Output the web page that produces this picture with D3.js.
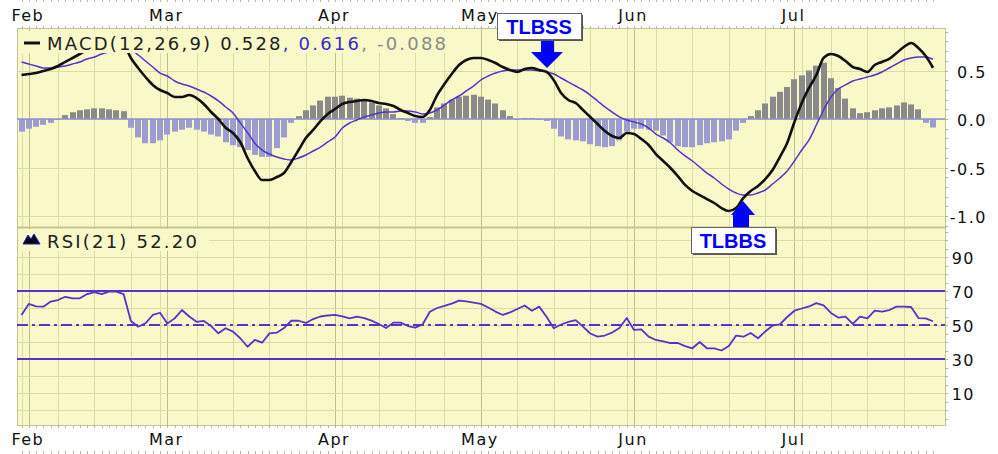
<!DOCTYPE html>
<meta charset="utf-8">
<style>
  body { margin: 0; background: #fff; }
  svg { display: block; }
  .lbl { font-family: "DejaVu Sans", Verdana, sans-serif; font-size: 16px; fill: #111; letter-spacing: 1.5px; }
  .leg { font-family: "DejaVu Sans", Verdana, sans-serif; font-size: 18px; letter-spacing: 2.2px; }
  .tag { font-family: "Liberation Sans", Arial, sans-serif; font-size: 20px; font-weight: bold; fill: #0000ff; }
</style>
<div id="chart"></div>
<script src="https://d3js.org/d3.v7.min.js"></script>
<script>

// trading days (2011, Jan 31 .. Jul 29), market holidays removed
var holidays = ["2011-02-21", "2011-04-22", "2011-05-30", "2011-07-04"];

var macd = [
  0.454, 0.464, 0.474, 0.495, 0.515, 0.546, 0.588, 0.629, 0.670, 0.711,
  0.742, 0.773, 0.794, 0.804, 0.773, 0.629, 0.526, 0.433, 0.351, 0.299,
  0.268, 0.227, 0.227, 0.247, 0.216, 0.155, 0.072, 0.000, -0.090, -0.144,
  -0.237, -0.402, -0.536, -0.629, -0.629, -0.598, -0.557, -0.443, -0.320, -0.196,
  -0.113, -0.021, 0.052, 0.103, 0.155, 0.175, 0.186, 0.196, 0.186, 0.165,
  0.155, 0.134, 0.093, 0.062, 0.031, 0.021, 0.093, 0.247, 0.361, 0.464,
  0.557, 0.608, 0.629, 0.629, 0.608, 0.577, 0.536, 0.505, 0.485, 0.515,
  0.526, 0.505, 0.485, 0.400, 0.268, 0.196, 0.165, 0.093, 0.021, -0.052,
  -0.124, -0.175, -0.196, -0.144, -0.155, -0.206, -0.268, -0.361, -0.433, -0.505,
  -0.588, -0.680, -0.742, -0.784, -0.825, -0.866, -0.918, -0.948, -0.918, -0.814,
  -0.742, -0.691, -0.619, -0.526, -0.392, -0.247, -0.031, 0.165, 0.320, 0.454,
  0.629, 0.670, 0.649, 0.598, 0.536, 0.515, 0.485, 0.557, 0.588, 0.619,
  0.680, 0.742, 0.784, 0.732, 0.649, 0.528
];

var signal = [
  0.588, 0.567, 0.546, 0.526, 0.526, 0.536, 0.546, 0.567, 0.588, 0.619,
  0.639, 0.670, 0.691, 0.711, 0.722, 0.711, 0.660, 0.598, 0.536, 0.474,
  0.443, 0.392, 0.361, 0.340, 0.309, 0.278, 0.237, 0.186, 0.124, 0.062,
  -0.040, -0.140, -0.250, -0.320, -0.361, -0.392, -0.412, -0.423, -0.402, -0.371,
  -0.330, -0.289, -0.237, -0.186, -0.093, -0.041, -0.010, 0.021, 0.041, 0.062,
  0.072, 0.072, 0.082, 0.082, 0.072, 0.052, 0.062, 0.093, 0.144, 0.196,
  0.237, 0.289, 0.340, 0.402, 0.443, 0.474, 0.495, 0.505, 0.505, 0.505,
  0.505, 0.495, 0.485, 0.464, 0.423, 0.381, 0.340, 0.299, 0.247, 0.186,
  0.124, 0.072, 0.021, -0.010, -0.031, -0.052, -0.093, -0.155, -0.196, -0.247,
  -0.320, -0.381, -0.433, -0.495, -0.557, -0.608, -0.670, -0.722, -0.763, -0.784,
  -0.784, -0.763, -0.732, -0.670, -0.608, -0.536, -0.433, -0.320, -0.216, -0.062,
  0.093, 0.227, 0.309, 0.351, 0.392, 0.412, 0.433, 0.454, 0.485, 0.526,
  0.567, 0.608, 0.629, 0.639, 0.639, 0.616
];

var hist = [
  -0.13, -0.10, -0.08, -0.06, -0.04, -0.01, 0.04, 0.07, 0.09, 0.10,
  0.11, 0.11, 0.10, 0.09, 0.08, -0.09, -0.19, -0.25, -0.25, -0.22,
  -0.16, -0.13, -0.11, -0.09, -0.11, -0.13, -0.16, -0.18, -0.24, -0.27,
  -0.29, -0.32, -0.37, -0.39, -0.39, -0.30, -0.19, -0.04, 0.03, 0.09,
  0.14, 0.19, 0.23, 0.23, 0.24, 0.22, 0.21, 0.20, 0.17, 0.14,
  0.11, 0.05, 0.01, -0.02, -0.04, -0.04, 0.02, 0.12, 0.16, 0.20,
  0.23, 0.24, 0.25, 0.23, 0.20, 0.16, 0.09, 0.03, -0.01, 0.01,
  0.01, -0.01, -0.02, -0.10, -0.18, -0.21, -0.22, -0.23, -0.26, -0.28,
  -0.29, -0.28, -0.22, -0.13, -0.10, -0.10, -0.11, -0.12, -0.17, -0.24,
  -0.28, -0.29, -0.29, -0.27, -0.25, -0.24, -0.23, -0.21, -0.12, -0.04,
  0.03, 0.09, 0.16, 0.23, 0.28, 0.33, 0.41, 0.45, 0.50, 0.55,
  0.58, 0.42, 0.32, 0.21, 0.11, 0.06, 0.07, 0.09, 0.11, 0.12,
  0.14, 0.17, 0.15, 0.10, -0.04, -0.088
];

var rsi = [
  55.9, 62.4, 60.9, 60.8, 63.8, 64.7, 66.6, 65.7, 65.7, 68.2,
  69.4, 68.2, 69.6, 69.6, 68.2, 52.4, 49.0, 51.0, 55.9, 57.2,
  50.9, 53.9, 58.8, 55.0, 51.9, 52.4, 49.4, 45.1, 48.1, 46.1,
  42.2, 37.2, 41.2, 39.6, 45.1, 45.5, 48.2, 52.5, 52.5, 51.2,
  53.5, 55.0, 55.6, 55.9, 55.1, 53.9, 54.9, 54.1, 52.6, 50.6,
  48.2, 51.4, 51.4, 49.4, 48.5, 50.3, 57.8, 60.0, 61.2, 62.6,
  64.3, 63.9, 63.2, 62.4, 60.3, 57.9, 55.9, 57.4, 59.4, 61.5,
  58.4, 60.8, 54.9, 48.1, 50.3, 51.8, 52.9, 49.0, 45.0, 43.2,
  43.8, 45.6, 48.2, 54.1, 47.1, 47.4, 43.2, 41.2, 40.3, 39.4,
  39.4, 37.6, 36.3, 40.0, 36.3, 36.2, 35.0, 37.6, 43.8, 43.1,
  45.3, 42.2, 46.2, 49.7, 50.4, 54.7, 58.4, 59.7, 60.9, 62.9,
  61.5, 57.1, 54.4, 54.9, 50.6, 54.9, 53.9, 58.4, 57.9, 58.8,
  60.8, 60.8, 60.6, 54.1, 53.9, 52.2
];

var macdTicks = [0.5, 0.0, -0.5, -1.0];
var rsiTicks = [90, 70, 50, 30, 10];
var rsiLevels = [70, 50, 30];
var signals = [
  {label: "TLBSS", day: 72, dir: "down"},
  {label: "TLBBS", day: 99, dir: "up"}
];

var fmt = d3.timeFormat("%Y-%m-%d");
var days = d3.timeDays(new Date(2011, 0, 31), new Date(2011, 6, 30)).filter(function(d) {
  return d.getDay() > 0 && d.getDay() < 6 && holidays.indexOf(fmt(d)) < 0;
});

var monthStarts = [], weekStarts = [0];
days.forEach(function(d, i) {
  if (i > 0 && d.getMonth() != days[i - 1].getMonth()) monthStarts.push(i);
  if (i > 0 && (d - days[i - 1]) > 86400000 * 1.5 && d.getDay() <= days[i - 1].getDay()) weekStarts.push(i);
});

var W = 998, H = 454;
var L = 17, R = 945, T = 28, M = 227, B = 425;
var bg = "#f8f8c8", grid = "#dadca6", gridMonth = "#bcc088", purple = "#5533cc";

var svg = d3.select("#chart").append("svg")
    .attr("width", W)
    .attr("height", H);

var x = d3.scaleLinear().domain([0, days.length - 1]).range([21.5, 933]);
var yM = d3.scaleLinear().domain([-1, 0.5]).range([216, 70.5]);
var yR = d3.scaleLinear().domain([10, 90]).range([393, 257]);

var defs = svg.append("defs");
defs.append("clipPath").attr("id", "clipM").append("rect")
    .attr("x", L).attr("y", T).attr("width", R - L).attr("height", M - T);
defs.append("clipPath").attr("id", "clipR").append("rect")
    .attr("x", L).attr("y", M).attr("width", R - L).attr("height", B - M);

// background
svg.append("rect").attr("x", L).attr("y", T).attr("width", R - L).attr("height", B - T).attr("fill", bg);

// vertical grid
svg.append("g").selectAll("line")
  .data(weekStarts.filter(function(i) { return monthStarts.indexOf(i) < 0; }))
  .enter().append("line")
    .attr("x1", function(i) { return Math.round(x(i)) + 0.5; })
    .attr("x2", function(i) { return Math.round(x(i)) + 0.5; })
    .attr("y1", T).attr("y2", B)
    .attr("stroke", grid);
svg.append("g").selectAll("line")
  .data(monthStarts)
  .enter().append("line")
    .attr("x1", function(i) { return Math.round(x(i)) + 0.5; })
    .attr("x2", function(i) { return Math.round(x(i)) + 0.5; })
    .attr("y1", T).attr("y2", B)
    .attr("stroke", gridMonth);

// horizontal grid
svg.append("g").selectAll("line")
  .data(macdTicks)
  .enter().append("line")
    .attr("x1", L).attr("x2", R)
    .attr("y1", function(d) { return Math.round(yM(d)) + 0.5; })
    .attr("y2", function(d) { return Math.round(yM(d)) + 0.5; })
    .attr("stroke", grid);
svg.append("g").selectAll("line")
  .data(d3.range(0, 101, 10))
  .enter().append("line")
    .attr("x1", L).attr("x2", R)
    .attr("y1", function(d) { return Math.round(yR(d)) + 0.5; })
    .attr("y2", function(d) { return Math.round(yR(d)) + 0.5; })
    .attr("stroke", grid);

// borders
svg.append("rect").attr("x", L + 0.5).attr("y", T + 0.5).attr("width", R - L).attr("height", B - T)
    .attr("fill", "none").attr("stroke", "#c4c494");
svg.append("line").attr("x1", L).attr("x2", R).attr("y1", M + 0.5).attr("y2", M + 0.5)
    .attr("stroke", "#c4c494").attr("stroke-width", 2);

// day ticks along the date edges
[[0, 2], [T - 2, T], [B, B + 3], [H - 3, H]].forEach(function(r) {
  svg.append("g").selectAll("line")
    .data(d3.range(days.length))
    .enter().append("line")
      .attr("x1", function(i) { return Math.round(x(i)) + 0.5; })
      .attr("x2", function(i) { return Math.round(x(i)) + 0.5; })
      .attr("y1", r[0]).attr("y2", r[1])
      .attr("stroke", "#b8b8a0");
});

// right axis minor ticks
svg.append("g").selectAll("line")
  .data(d3.range(-11, 10).map(function(d) { return d / 10; }))
  .enter().append("line")
    .attr("x1", R).attr("x2", R + 3)
    .attr("y1", function(d) { return Math.round(yM(d)) + 0.5; })
    .attr("y2", function(d) { return Math.round(yM(d)) + 0.5; })
    .attr("stroke", "#b8b890");
svg.append("g").selectAll("line")
  .data(d3.range(-5, 106, 5))
  .enter().append("line")
    .attr("x1", R).attr("x2", R + 3)
    .attr("y1", function(d) { return Math.round(yR(d)) + 0.5; })
    .attr("y2", function(d) { return Math.round(yR(d)) + 0.5; })
    .attr("stroke", "#b8b890");

// MACD panel
var gM = svg.append("g").attr("clip-path", "url(#clipM)");

gM.selectAll("rect.bar")
  .data(hist)
  .enter().append("rect")
    .attr("class", "bar")
    .attr("x", function(d, i) { return Math.round(x(i) - 3); })
    .attr("width", 6)
    .attr("y", function(d) { return Math.min(yM(d), yM(0)); })
    .attr("height", function(d) { return Math.abs(yM(d) - yM(0)); })
    .attr("fill", function(d) { return d >= 0 ? "#8a8a8a" : "#9c9cd0"; });

gM.append("line").attr("x1", L).attr("x2", R)
    .attr("y1", yM(0)).attr("y2", yM(0))
    .attr("stroke", "#9090d0").attr("stroke-width", 1.5);

var lineM = d3.line()
    .x(function(d, i) { return x(i); })
    .y(function(d) { return yM(d); })
    .curve(d3.curveMonotoneX);

gM.append("path").datum(signal)
    .attr("d", lineM).attr("fill", "none")
    .attr("stroke", purple).attr("stroke-width", 1.5);
gM.append("path").datum(macd)
    .attr("d", lineM).attr("fill", "none")
    .attr("stroke", "#111").attr("stroke-width", 2.6).attr("stroke-linejoin", "round");

// RSI panel
var gR = svg.append("g").attr("clip-path", "url(#clipR)");

gR.selectAll("line.lvl")
  .data(rsiLevels)
  .enter().append("line")
    .attr("class", "lvl")
    .attr("x1", L).attr("x2", R)
    .attr("y1", function(d) { return yR(d); })
    .attr("y2", function(d) { return yR(d); })
    .attr("stroke", purple).attr("stroke-width", 2)
    .attr("stroke-dasharray", function(d) { return d == 50 ? "11,4,3,4" : null; });

gR.append("path").datum(rsi)
    .attr("d", d3.line()
        .x(function(d, i) { return x(i); })
        .y(function(d) { return yR(d); }))
    .attr("fill", "none")
    .attr("stroke", purple).attr("stroke-width", 1.8).attr("stroke-linejoin", "round");

// legends
svg.append("rect").attr("x", 19).attr("y", 31).attr("width", 442).attr("height", 22).attr("fill", bg);
svg.append("line").attr("x1", 24).attr("x2", 40).attr("y1", 43).attr("y2", 43)
    .attr("stroke", "#111").attr("stroke-width", 3);
var legM = svg.append("text").attr("class", "leg").attr("x", 47).attr("y", 49.5);
legM.append("tspan").attr("fill", "#222").text("MACD(12,26,9) " + macd[macd.length - 1].toFixed(3));
legM.append("tspan").attr("fill", "#3a2bc8").text(", " + signal[signal.length - 1].toFixed(3));
legM.append("tspan").attr("fill", "#8a8a8a").text(", " + hist[hist.length - 1].toFixed(3));

svg.append("rect").attr("x", 19).attr("y", 229).attr("width", 190).attr("height", 22).attr("fill", bg);
svg.append("path")
    .attr("d", "M23,244 L28,235 L31,239 L34,234 L40,244 Z")
    .attr("fill", "#000").attr("stroke", "#2222cc").attr("stroke-width", 1);
svg.append("text").attr("class", "leg").attr("x", 47).attr("y", 247.5).attr("fill", "#222")
    .text("RSI(21) " + rsi[rsi.length - 1].toFixed(2));

// date labels
[21, 445].forEach(function(yy) {
  svg.append("g").selectAll("text")
    .data(monthStarts)
    .enter().append("text")
      .attr("class", "lbl")
      .attr("x", function(i) { return x(i) - 1; })
      .attr("y", yy)
      .attr("text-anchor", "middle")
      .text(function(i) { return d3.timeFormat("%b")(days[i]); });
});

// value labels
svg.append("g").selectAll("text")
  .data(macdTicks)
  .enter().append("text")
    .attr("class", "lbl")
    .attr("x", 987).attr("y", function(d) { return yM(d) + 7; })
    .attr("text-anchor", "end")
    .text(function(d) { return d.toFixed(1); });
svg.append("g").selectAll("text")
  .data(rsiTicks)
  .enter().append("text")
    .attr("class", "lbl")
    .attr("x", 975).attr("y", function(d) { return yR(d) + 6.5; })
    .attr("text-anchor", "end")
    .text(function(d) { return d; });

// signal tags
signals.forEach(function(s) {
  var ax = Math.round(x(s.day)), g = svg.append("g");
  var bx, by, arrow;
  if (s.dir == "down") {
    bx = ax - 50; by = 13;
    arrow = [[ax - 6, 40], [ax + 7, 40], [ax + 7, 52], [ax + 16, 52], [ax, 68], [ax - 16, 52], [ax - 6, 52]];
  } else {
    bx = ax - 52; by = 227;
    arrow = [[ax - 10, 227], [ax + 6, 227], [ax + 6, 215], [ax + 12, 215], [ax, 201], [ax - 12, 215], [ax - 10, 215]];
  }
  g.append("path").attr("d", d3.line()(arrow) + "Z").attr("fill", "#0000ff");
  g.append("rect").attr("x", bx + 2).attr("y", by + 2).attr("width", 84).attr("height", 26).attr("fill", "#555");
  g.append("rect").attr("x", bx + 0.5).attr("y", by + 0.5).attr("width", 84).attr("height", 26)
      .attr("fill", "#fff").attr("stroke", "#666");
  g.append("text").attr("class", "tag").attr("x", bx + 42).attr("y", by + 20.5)
      .attr("text-anchor", "middle").text(s.label);
});

</script>
